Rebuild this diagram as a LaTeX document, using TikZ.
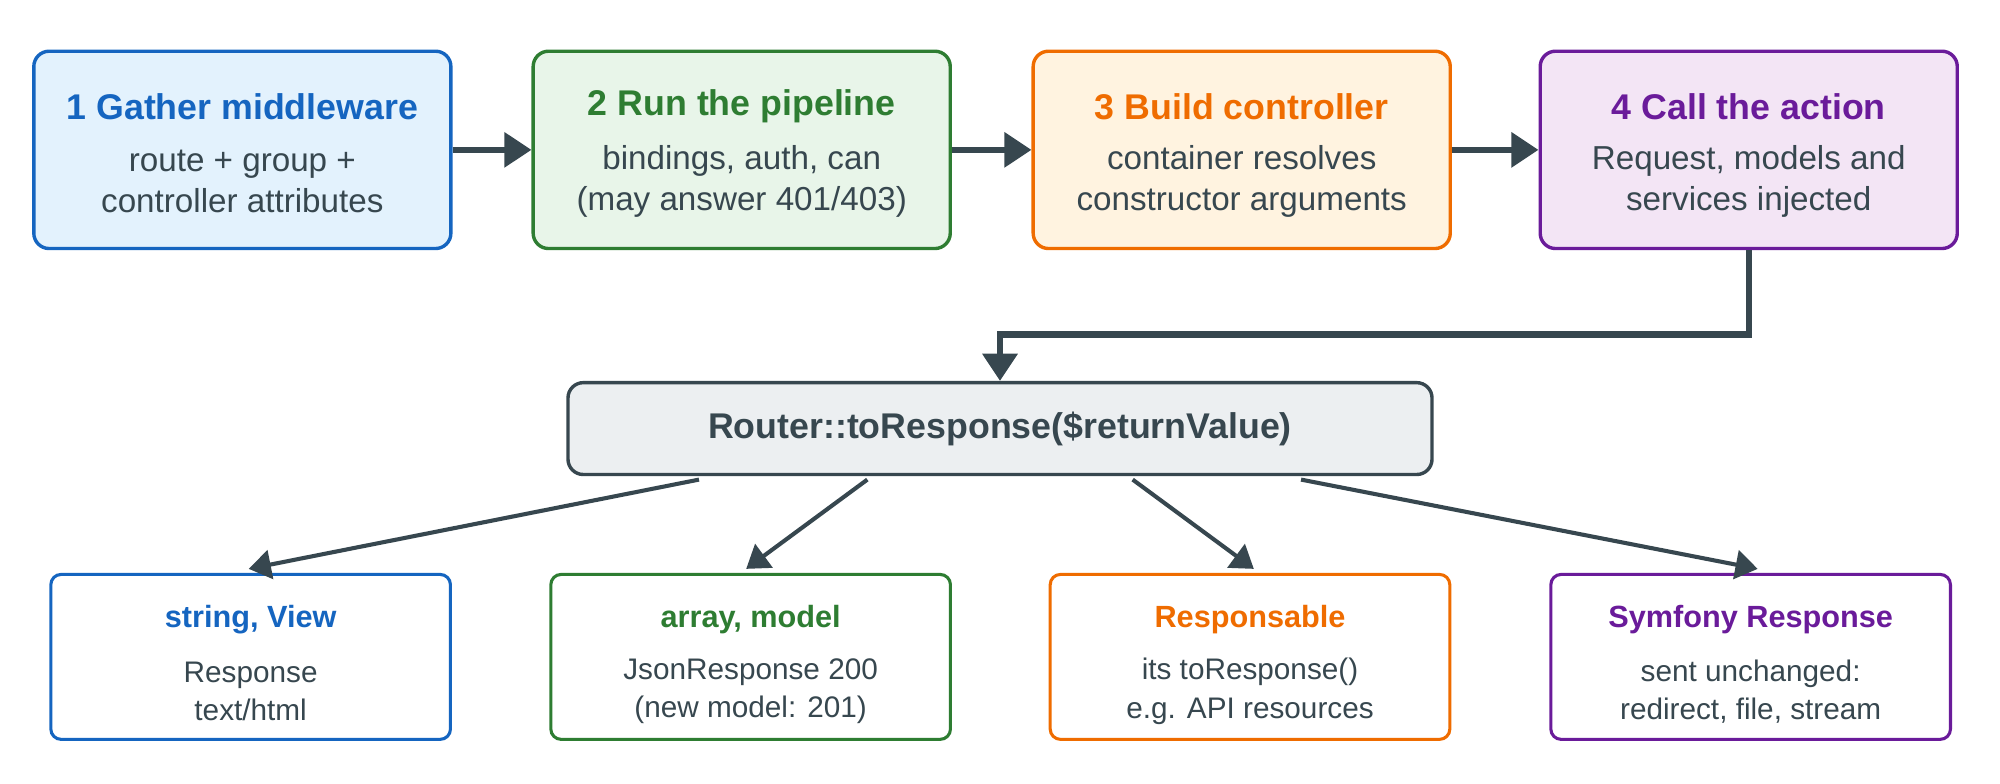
\documentclass[tikz,border=0pt]{standalone}
\usepackage{fontspec}
\setmainfont{Liberation Sans}
\usetikzlibrary{arrows.meta}
\definecolor{ink}{HTML}{37474F}
\definecolor{cb}{HTML}{1565C0}\definecolor{fb}{HTML}{E3F2FD}
\definecolor{cg}{HTML}{2E7D32}\definecolor{fg}{HTML}{E8F5E9}
\definecolor{co}{HTML}{EF6C00}\definecolor{fo}{HTML}{FFF3E0}
\definecolor{cp}{HTML}{6A1B9A}\definecolor{fp}{HTML}{F3E5F5}
\definecolor{fr}{HTML}{ECEFF1}
\begin{document}
\begin{tikzpicture}[x=0.9566pt,y=-0.9566pt,
 top/.style={draw=#1,line width=2.55pt,rounded corners=11.5pt,minimum width=312.8pt,minimum height=148pt,inner sep=0pt},
 bot/.style={draw=#1,fill=white,line width=2.3pt,rounded corners=7.7pt,minimum width=299.7pt,minimum height=123.7pt,inner sep=0pt},
 bigarr/.style={draw=ink,line width=4.85pt,-{Triangle[length=20.4pt,width=25.5pt]}},
 smallarr/.style={draw=ink,line width=3.06pt,-{Triangle[length=16.6pt,width=21.7pt]}},
 tt/.style={font=\fontsize{26.8}{31.9}\selectfont\bfseries},
 bt/.style={font=\fontsize{24.9}{30.6}\selectfont,color=ink,align=center},
 st/.style={font=\fontsize{23}{29.3}\selectfont\bfseries},
 sb/.style={font=\fontsize{22.3}{28.7}\selectfont,color=ink,align=center}]
\useasboundingbox (0,0) rectangle (1568,614);
\node[top=cb,fill=fb] (a) at (190,117.5) {};
\node[top=cg,fill=fg] (b) at (581.5,117.5) {};
\node[top=co,fill=fo] (c) at (973.5,117.5) {};
\node[top=cp,fill=fp] (d) at (1371,117.5) {};
\path (a) ++(0,-34) node[tt,cb] {1 Gather middleware} ++(0,59) node[bt] {route + group +\\controller attributes};
\path (b) ++(0,-34) node[tt,cg] {2 Run the pipeline} ++(0,59) node[bt] {bindings, auth, can\\(may answer 401/403)};
\path (c) ++(0,-34) node[tt,co] {3 Build controller} ++(0,59) node[bt] {container resolves\\constructor arguments};
\path (d) ++(0,-34) node[tt,cp] {4 Call the action} ++(0,59) node[bt] {Request, models and\\services injected};
\draw[bigarr] (a) -- (b);
\draw[bigarr] (b) -- (c);
\draw[bigarr] (c) -- (d);
\node[draw=ink,fill=fr,line width=2.55pt,rounded corners=11.5pt,minimum width=648pt,minimum height=68.9pt,font=\fontsize{26.8}{31.9}\selectfont\bfseries,text=ink] (r) at (784,336) {Router::toResponse(\$returnValue)};
\draw[bigarr] (d.south) -- ++(0,66) -| (r.north);
\node[bot=cb] (e) at (196.5,515) {};
\node[bot=cg] (f) at (588.5,515) {};
\node[bot=co] (g) at (980,515) {};
\node[bot=cp] (h) at (1372.5,515) {};
\path (e) ++(0,-29) node[st,cb] {string, View} ++(0,56) node[sb] {Response\\text/html};
\path (f) ++(0,-29) node[st,cg] {array, model} ++(0,56) node[sb] {JsonResponse 200\\(new model: 201)};
\path (g) ++(0,-29) node[st,co] {Responsable} ++(0,56) node[sb] {its toResponse()\\e.g. API resources};
\path (h) ++(0,-29) node[st,cp] {Symfony Response} ++(0,56) node[sb] {sent unchanged:\\redirect, file, stream};
\coordinate (r1) at (548,376); \coordinate (r2) at (680,376);
\coordinate (r3) at (888,376); \coordinate (r4) at (1020,376);
\coordinate (e1) at (195,446); \coordinate (f1) at (585,446);
\coordinate (g1) at (983,446); \coordinate (h1) at (1378,446);
\draw[smallarr] (r1) -- (e1);
\draw[smallarr] (r2) -- (f1);
\draw[smallarr] (r3) -- (g1);
\draw[smallarr] (r4) -- (h1);
\end{tikzpicture}
\end{document}
